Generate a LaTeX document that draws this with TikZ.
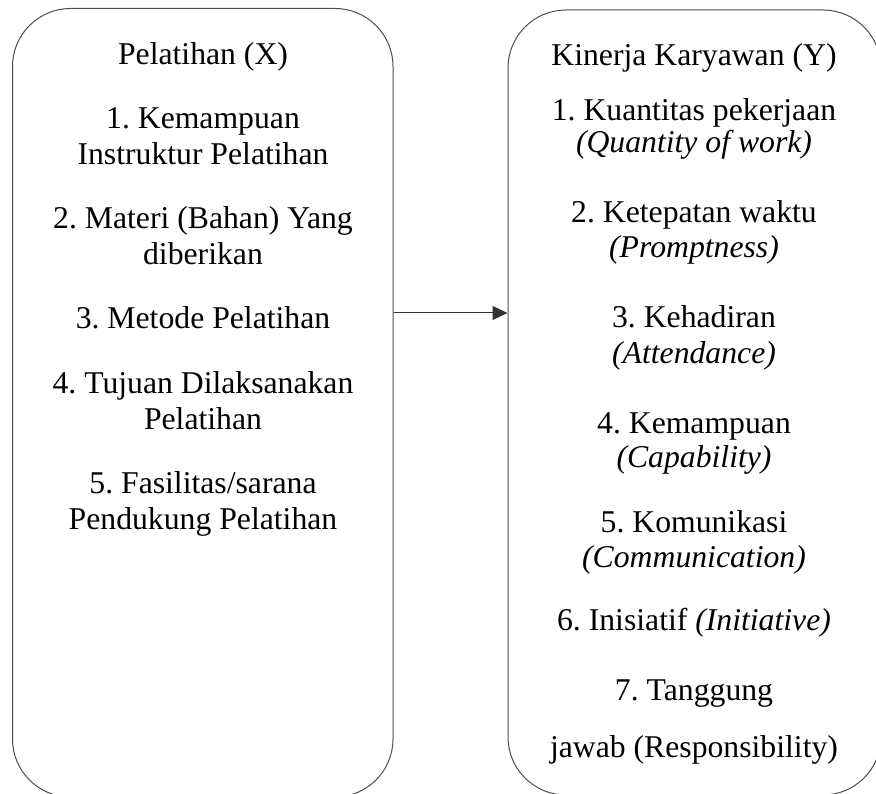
\documentclass[tikz,border=0pt]{standalone}
\usepackage{fontspec}
\setmainfont{Liberation Serif}
\frenchspacing
\usetikzlibrary{arrows.meta}
\tikzset{
  kotak/.style={draw=black!70, line width=1pt, rounded corners=58pt, inner sep=0pt},
  teks/.style={anchor=base, inner sep=0pt, font=\fontsize{31.7}{36}\selectfont},
}

\begin{document}
\begin{tikzpicture}[x=1pt, y=-1pt]
    \useasboundingbox (0,0) rectangle (876,794);

    % kotak kiri dan kanan
    \node[kotak, minimum width=380.5pt, minimum height=788.5pt] (pelatihan) at (202.75,402.75) {};
    \node[kotak, minimum width=373pt, minimum height=785pt] (kinerja) at (694.5,402.5) {};

    % variabel X
    \node[teks] (x0)  at (203,65)  {Pelatihan (X)};
    \node[teks] (x1a) at (203,129) {1. Kemampuan};
    \node[teks] (x1b) at (203,165) {Instruktur Pelatihan};
    \node[teks] (x2a) at (203,229) {2. Materi (Bahan) Yang};
    \node[teks] (x2b) at (203,265) {diberikan};
    \node[teks] (x3)  at (203,329) {3. Metode Pelatihan};
    \node[teks] (x4a) at (203,393) {4. Tujuan Dilaksanakan};
    \node[teks] (x4b) at (203,429) {Pelatihan};
    \node[teks] (x5a) at (203,493) {5. Fasilitas/sarana};
    \node[teks] (x5b) at (203,529) {Pendukung Pelatihan};

    % variabel Y
    \node[teks] (y0)  at (694,66)  {Kinerja Karyawan (Y)};
    \node[teks] (y1a) at (694,121) {1. Kuantitas pekerjaan};
    \node[teks] (y1b) at (694,153) {\textit{(Quantity of work)}};
    \node[teks] (y2a) at (694,223) {2. Ketepatan waktu};
    \node[teks] (y2b) at (694,258) {\textit{(Promptness)}};
    \node[teks] (y3a) at (694,328) {3. Kehadiran};
    \node[teks] (y3b) at (694,363) {\textit{(Attendance)}};
    \node[teks] (y4a) at (694,433) {4. Kemampuan};
    \node[teks] (y4b) at (694,467) {\textit{(Capability)}};
    \node[teks] (y5a) at (694,532) {5. Komunikasi};
    \node[teks] (y5b) at (694,567) {\textit{(Communication)}};
    \node[teks] (y6)  at (694,630) {6. Inisiatif \textit{(Initiative)}};
    \node[teks] (y7a) at (694,700) {7. Tanggung};
    \node[teks] (y7b) at (694,757) {jawab (Responsibility)};

    \coordinate (panah) at (0,313);
    \draw [-{Triangle[length=15pt, width=14pt]}, black!80, line width=1pt] (pelatihan.east |- panah) -- (kinerja.west |- panah);
\end{tikzpicture}
\end{document}
